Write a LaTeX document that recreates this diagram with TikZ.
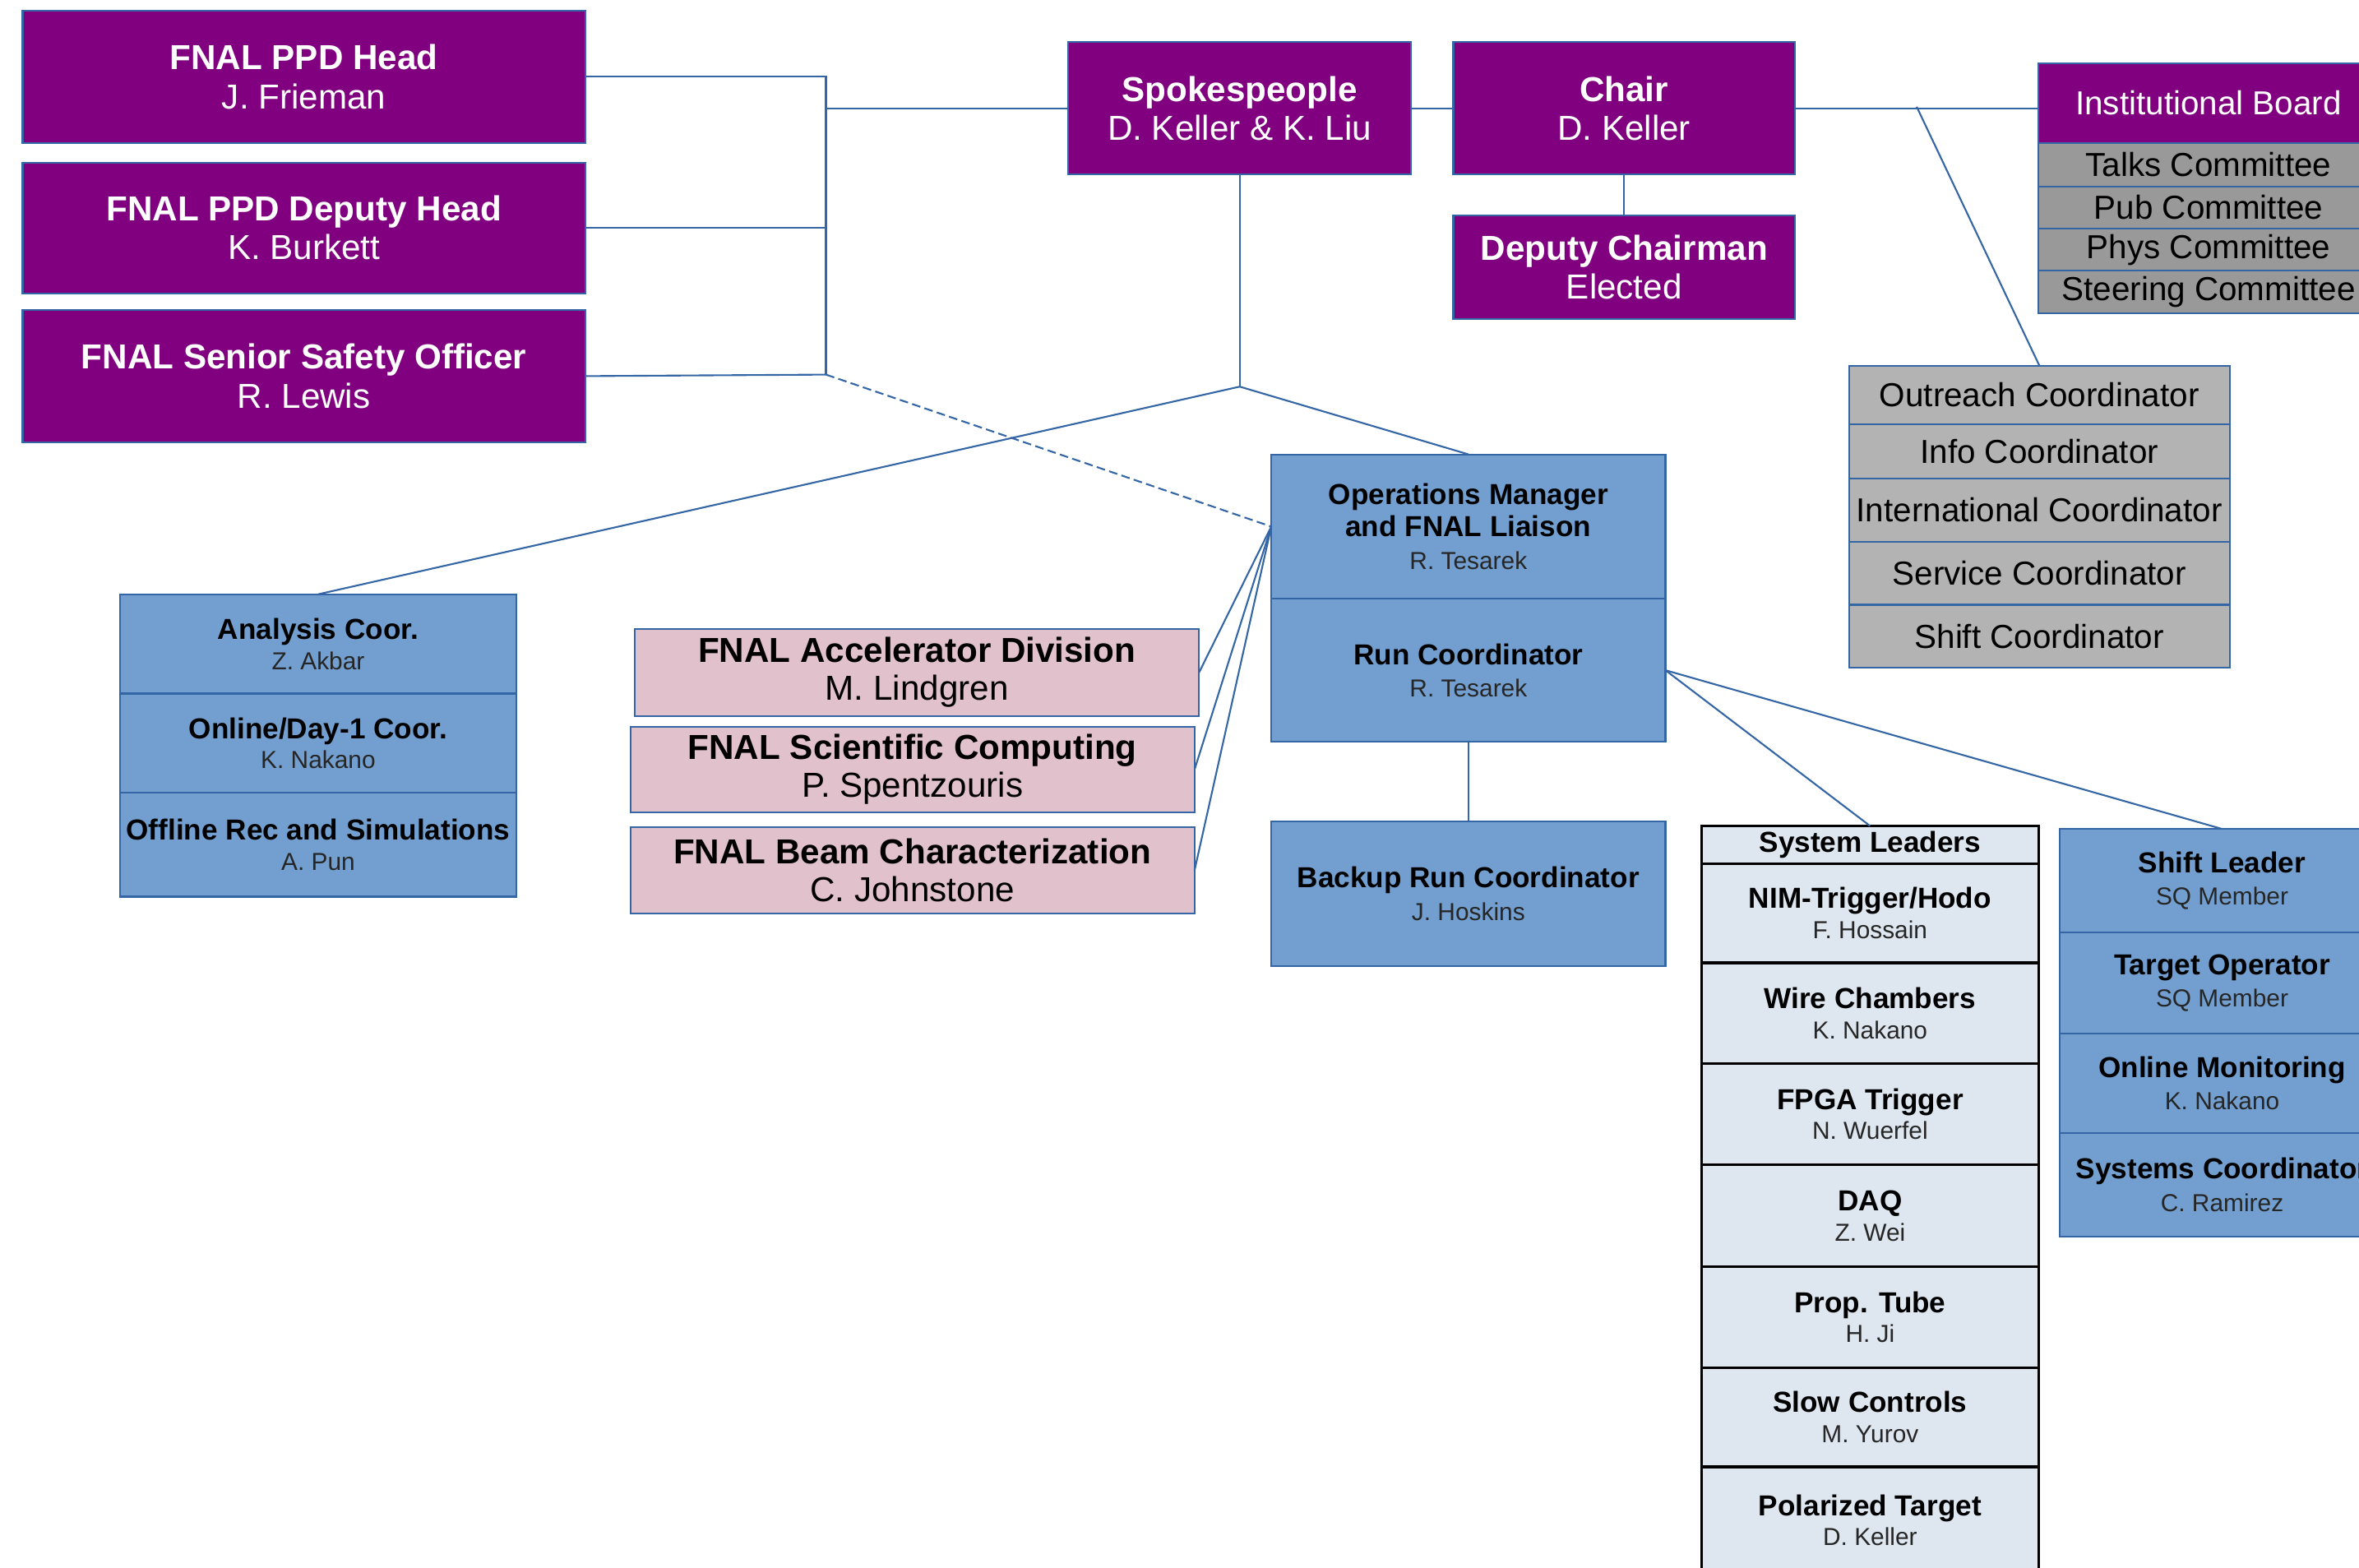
\documentclass[tikz,border=0pt]{standalone}
\usepackage{fontspec}
\setmainfont{Liberation Sans}
\newcommand\pxu{0.0183cm}
\newcommand\namefont{\fontsize{8.5}{10}\selectfont\color{namegray}}
\definecolor{orgpurple}{HTML}{800080}
\definecolor{orgline}{HTML}{3465A4}
\definecolor{orgblue}{HTML}{729FCF}
\definecolor{orgpink}{HTML}{E0C1CC}
\definecolor{orggray}{HTML}{B3B3B3}
\definecolor{orgdark}{HTML}{999999}
\definecolor{orglight}{HTML}{DEE6EF}
\definecolor{namegray}{HTML}{262626}
\begin{document}
\begin{tikzpicture}[x=\pxu,y=-\pxu,
        every node/.style={inner sep=0pt,outer sep=0pt,align=center,anchor=north west},
        dims/.style 2 args={minimum width=#1*\pxu,minimum height=#2*\pxu},
        purplebox/.style={draw=orgline,line width=0.6pt,fill=orgpurple,text=white,font=\fontsize{12}{13.5}\selectfont},
        committee/.style={draw=orgline,line width=0.6pt,fill=orgdark,font=\fontsize{11.5}{13}\selectfont},
        graybox/.style={draw=orgline,line width=0.6pt,fill=orggray,font=\fontsize{11.5}{13}\selectfont},
        bluebox/.style={draw=orgline,line width=0.6pt,fill=orgblue,font=\fontsize{10}{11.2}\selectfont},
        pinkbox/.style={draw=orgline,line width=0.6pt,fill=orgpink,font=\fontsize{12}{13}\selectfont},
        sysbox/.style={draw=black,line width=0.9pt,fill=orglight,font=\fontsize{10}{10.5}\selectfont},
        link/.style={draw=orgline,line width=0.6pt},
        dashlink/.style={link,dash pattern=on 3pt off 1.5pt}]
                \useasboundingbox (0,0) rectangle (1568,1042);
                \clip (0,0) rectangle (1568,1042);

                \node[purplebox,dims={374}{88}] (ppdhead) at (15,7) {\textbf{FNAL PPD Head}\\J. Frieman};
                \node[purplebox,dims={374}{87}] (ppddeputy) at (15,108) {\textbf{FNAL PPD Deputy Head}\\K. Burkett};
                \node[purplebox,dims={374}{88}] (safety) at (15,206) {\textbf{FNAL Senior Safety Officer}\\R. Lewis};
                \node[purplebox,dims={228}{88}] (spokes) at (710,28) {\textbf{Spokespeople}\\D. Keller \& K. Liu};
                \node[purplebox,dims={227}{88}] (chair) at (966,28) {\textbf{Chair}\\D. Keller};
                \node[purplebox,dims={227}{69}] (deputy) at (966,143) {\textbf{Deputy Chairman}\\Elected};

                \node[purplebox,dims={226}{53},font=\fontsize{11.5}{13}\selectfont] (instboard) at (1355,42) {Institutional Board};
                \node[committee,dims={226}{29}] (talks) at (1355,95) {Talks Committee};
                \node[committee,dims={226}{28}] (pub) at (1355,124) {Pub Committee};
                \node[committee,dims={226}{28}] (phys) at (1355,152) {Phys Committee};
                \node[committee,dims={226}{28}] (steering) at (1355,180) {Steering Committee};

                \node[graybox,dims={253}{39}] (outreach) at (1229,243) {Outreach Coordinator};
                \node[graybox,dims={253}{36}] (info) at (1229,282) {Info Coordinator};
                \node[graybox,dims={253}{42}] (intl) at (1229,318) {International Coordinator};
                \node[graybox,dims={253}{42}] (service) at (1229,360) {Service Coordinator};
                \node[graybox,dims={253}{42}] (shiftcoord) at (1229,402) {Shift Coordinator};

                \node[bluebox,dims={262}{96}] (ops) at (845,302) {\textbf{Operations Manager}\\\textbf{and FNAL Liaison}\\{\namefont R. Tesarek}};
                \node[bluebox,dims={262}{95}] (runcoord) at (845,398) {\textbf{Run Coordinator}\\{\namefont R. Tesarek}};
                \node[bluebox,dims={262}{96}] (backup) at (845,546) {\textbf{Backup Run Coordinator}\\{\namefont J. Hoskins}};

                \node[bluebox,dims={263}{66},font=\fontsize{10}{10.5}\selectfont] (analysis) at (80,395) {\textbf{Analysis Coor.}\\{\namefont Z. Akbar}};
                \node[bluebox,dims={263}{66},font=\fontsize{10}{10.5}\selectfont] (online) at (80,461) {\textbf{Online/Day-1 Coor.}\\{\namefont K. Nakano}};
                \node[bluebox,dims={263}{69},font=\fontsize{10}{10.5}\selectfont] (offline) at (80,527) {\textbf{Offline Rec and Simulations}\\{\namefont A. Pun}};

                \node[pinkbox,dims={375}{58}] (accel) at (422,418) {\textbf{FNAL Accelerator Division}\\M. Lindgren};
                \node[pinkbox,dims={375}{57}] (scicomp) at (419,483) {\textbf{FNAL Scientific Computing}\\P. Spentzouris};
                \node[pinkbox,dims={375}{57}] (beam) at (419,550) {\textbf{FNAL Beam Characterization}\\C. Johnstone};

                \node[sysbox,dims={224}{25}] (sysleaders) at (1131,549) {\textbf{System Leaders}};
                \node[sysbox,dims={224}{66}] (nim) at (1131,574) {\textbf{NIM-Trigger/Hodo}\\{\namefont F. Hossain}};
                \node[sysbox,dims={224}{67}] (wire) at (1131,640) {\textbf{Wire Chambers}\\{\namefont K. Nakano}};
                \node[sysbox,dims={224}{67}] (fpga) at (1131,707) {\textbf{FPGA Trigger}\\{\namefont N. Wuerfel}};
                \node[sysbox,dims={224}{68}] (daq) at (1131,774) {\textbf{DAQ}\\{\namefont Z. Wei}};
                \node[sysbox,dims={224}{67}] (prop) at (1131,842) {\textbf{Prop. Tube}\\{\namefont H. Ji}};
                \node[sysbox,dims={224}{66}] (slow) at (1131,909) {\textbf{Slow Controls}\\{\namefont M. Yurov}};
                \node[sysbox,dims={224}{71}] (polar) at (1131,975) {\textbf{Polarized Target}\\{\namefont D. Keller}};

                \node[bluebox,dims={216}{69}] (shiftlead) at (1369,551) {\textbf{Shift Leader}\\{\namefont SQ Member}};
                \node[bluebox,dims={216}{67}] (target) at (1369,620) {\textbf{Target Operator}\\{\namefont SQ Member}};
                \node[bluebox,dims={216}{66}] (onlinemon) at (1369,687) {\textbf{Online Monitoring}\\{\namefont K. Nakano}};
                \node[bluebox,dims={216}{69}] (syscoord) at (1369,753) {\textbf{Systems Coordinator}\\{\namefont C. Ramirez}};

                \coordinate (busbot) at (549,249);
                \coordinate (hub) at (824,257);
                \coordinate (boardtap) at (1274,71);

                \draw[link] (ppdhead.east) -| (busbot);
                \draw[link] (ppddeputy.east) -- (ppddeputy.east -| busbot);
                \draw[link] (safety.east) -- (busbot);
                \draw[link] (spokes.west -| busbot) -- (spokes.west);
                \draw[link] (spokes.east) -- (chair.west);
                \draw[link] (chair.east) -- (chair.east -| instboard.west);
                \draw[link] (chair.south) -- (deputy.north);
                \draw[link] (boardtap) -- (outreach.north);
                \draw[link] (spokes.south) -- (hub);
                \draw[link] (hub) -- (analysis.north);
                \draw[link] (hub) -- (ops.north);
                \draw[dashlink] (busbot) -- (ops.west);
                \draw[link] (ops.west) -- (accel.east);
                \draw[link] (ops.west) -- (scicomp.east);
                \draw[link] (ops.west) -- (beam.east);
                \draw[link] (runcoord.south) -- (backup.north);
                \draw[link] (runcoord.east) -- (sysleaders.north);
                \draw[link] (runcoord.east) -- (shiftlead.north);
            \end{tikzpicture}
\end{document}
